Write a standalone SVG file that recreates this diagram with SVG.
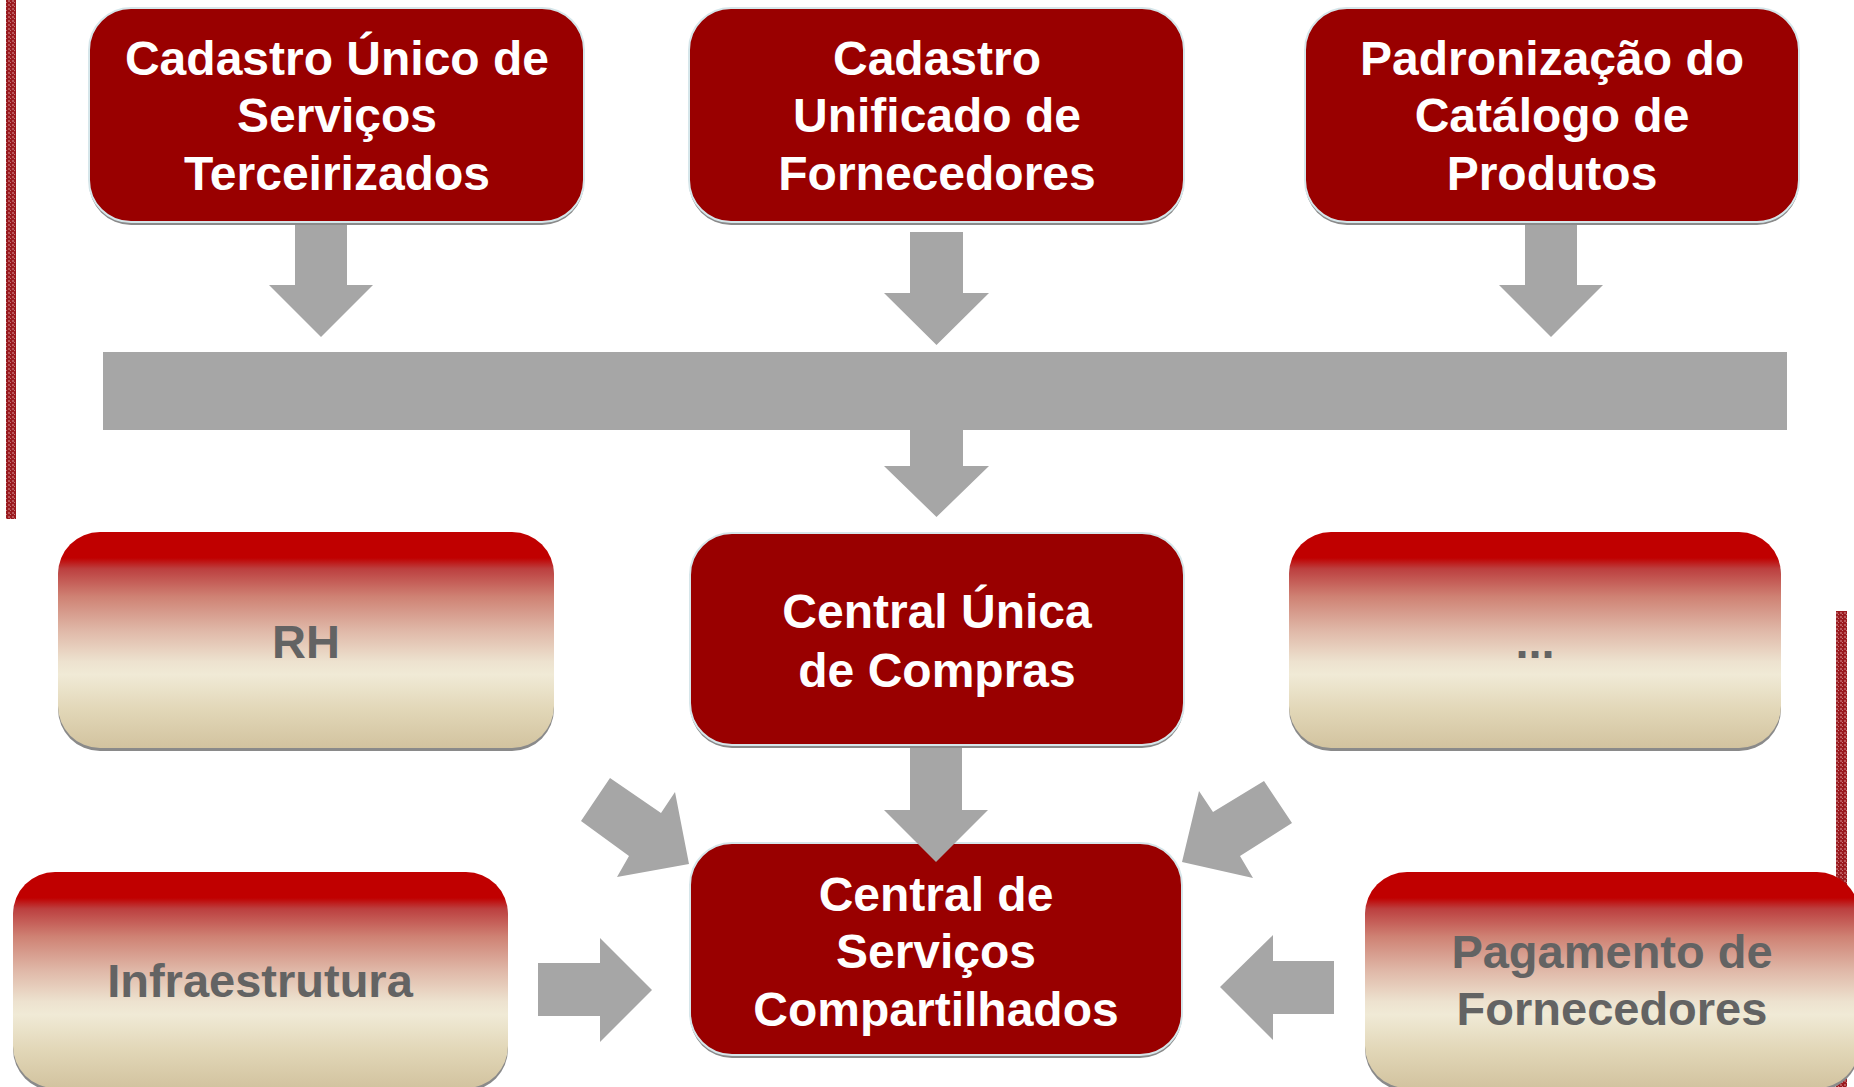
<svg xmlns="http://www.w3.org/2000/svg" width="1854" height="1087" viewBox="0 0 1854 1087">
<style>
.dark{fill:#990000;stroke:#d6e6ea;stroke-width:2}
.light{fill:url(#lg)}
.shadow{fill:#8a8a8a}
.arrow{fill:#a6a6a6}
.wt{font-family:"Liberation Sans",Arial,sans-serif;font-weight:bold;font-size:48px;fill:#ffffff;text-anchor:middle}
.gt{font-family:"Liberation Sans",Arial,sans-serif;font-weight:bold;font-size:47px;fill:#636363;text-anchor:middle}
</style>
<defs>
<linearGradient id="lg" x1="0" y1="0" x2="0" y2="1">
<stop offset="0" stop-color="#c00000"/>
<stop offset="0.12" stop-color="#c00000"/>
<stop offset="0.17" stop-color="#bc3f3f"/>
<stop offset="0.3" stop-color="#cf8274"/>
<stop offset="0.45" stop-color="#dfb6a6"/>
<stop offset="0.6" stop-color="#ede2cf"/>
<stop offset="0.66" stop-color="#f0ead6"/>
<stop offset="0.82" stop-color="#e2d7b8"/>
<stop offset="1" stop-color="#d2c39f"/>
</linearGradient>
<pattern id="tex" width="4" height="4" patternUnits="userSpaceOnUse">
<rect width="4" height="4" fill="#9a1a1f"/>
<rect x="0" y="0" width="2" height="2" fill="#b9575b"/>
<rect x="2" y="2" width="1" height="1" fill="#c77a7d"/>
</pattern>
</defs>
<rect width="1854" height="1087" fill="#ffffff"/>
<rect x="6" y="0" width="10" height="519" fill="url(#tex)"/>
<rect x="1836" y="611" width="11" height="476" fill="url(#tex)"/>

<g id="connectors">
<rect x="103" y="352" width="1684" height="78" class="arrow"/>
<polygon class="arrow" points="295,223 347,223 347,285 373,285 321,337 269,285 295,285"/>
<polygon class="arrow" points="910,232 963,232 963,293 989,293 936.5,345 884,293 910,293"/>
<polygon class="arrow" points="1525,222 1577,222 1577,285 1603,285 1551,337 1499,285 1525,285"/>
<polygon class="arrow" points="910,430 963,430 963,466 989,466 936.5,517 884,466 910,466"/>
<polygon class="arrow" points="610,778 661,813 675,792 689,864 617,877 629,856 581,821"/>
<polygon class="arrow" points="1264,781 1292,823 1240,856 1253,878 1182,862 1199,791 1213,812"/>
<polygon class="arrow" points="538,963 600,963 600,938 652,990 600,1042 600,1016 538,1016"/>
<polygon class="arrow" points="1334,961 1273,961 1273,935 1220,987 1273,1040 1273,1014 1334,1014"/>
</g>

<g id="n1">
<rect x="89" y="11" width="495" height="214" rx="42" class="shadow"/>
<rect x="89" y="8" width="495" height="214" rx="42" class="dark"/>
<text class="wt"><tspan x="337" y="75">Cadastro Único de</tspan><tspan x="337" y="132">Serviços</tspan><tspan x="337" y="190">Terceirizados</tspan></text>
</g>
<g id="n2">
<rect x="689" y="11" width="495" height="214" rx="42" class="shadow"/>
<rect x="689" y="8" width="495" height="214" rx="42" class="dark"/>
<text class="wt"><tspan x="937" y="75">Cadastro</tspan><tspan x="937" y="132">Unificado de</tspan><tspan x="937" y="190">Fornecedores</tspan></text>
</g>
<g id="n3">
<rect x="1305" y="11" width="494" height="214" rx="42" class="shadow"/>
<rect x="1305" y="8" width="494" height="214" rx="42" class="dark"/>
<text class="wt"><tspan x="1552" y="75">Padronização do</tspan><tspan x="1552" y="132">Catálogo de</tspan><tspan x="1552" y="190">Produtos</tspan></text>
</g>
<g id="n4">
<rect x="690" y="536" width="494" height="212" rx="42" class="shadow"/>
<rect x="690" y="533" width="494" height="212" rx="42" class="dark"/>
<text class="wt"><tspan x="937" y="628">Central Única</tspan><tspan x="937" y="687">de Compras</tspan></text>
</g>
<g id="n5">
<rect x="58" y="535" width="496" height="216" rx="42" class="shadow"/>
<rect x="58" y="532" width="496" height="216" rx="42" class="light"/>
<text class="gt" x="306" y="658">RH</text>
</g>
<g id="n6">
<rect x="1289" y="535" width="492" height="216" rx="42" class="shadow"/>
<rect x="1289" y="532" width="492" height="216" rx="42" class="light"/>
<text class="gt" x="1535" y="658">...</text>
</g>
<g id="n7">
<rect x="690" y="846" width="492" height="212" rx="42" class="shadow"/>
<rect x="690" y="843" width="492" height="212" rx="42" class="dark"/>
<text class="wt"><tspan x="936" y="911">Central de</tspan><tspan x="936" y="968">Serviços</tspan><tspan x="936" y="1026">Compartilhados</tspan></text>
</g>
<polygon class="arrow" points="910,748 962,748 962,810 988,810 936,862 884,810 910,810"/>
<g id="n8">
<rect x="13" y="875" width="495" height="216" rx="42" class="shadow"/>
<rect x="13" y="872" width="495" height="216" rx="42" class="light"/>
<text class="gt" x="260" y="997">Infraestrutura</text>
</g>
<g id="n9">
<rect x="1365" y="875" width="494" height="216" rx="42" class="shadow"/>
<rect x="1365" y="872" width="494" height="216" rx="42" class="light"/>
<text class="gt"><tspan x="1612" y="968">Pagamento de</tspan><tspan x="1612" y="1025">Fornecedores</tspan></text>
</g>
</svg>
